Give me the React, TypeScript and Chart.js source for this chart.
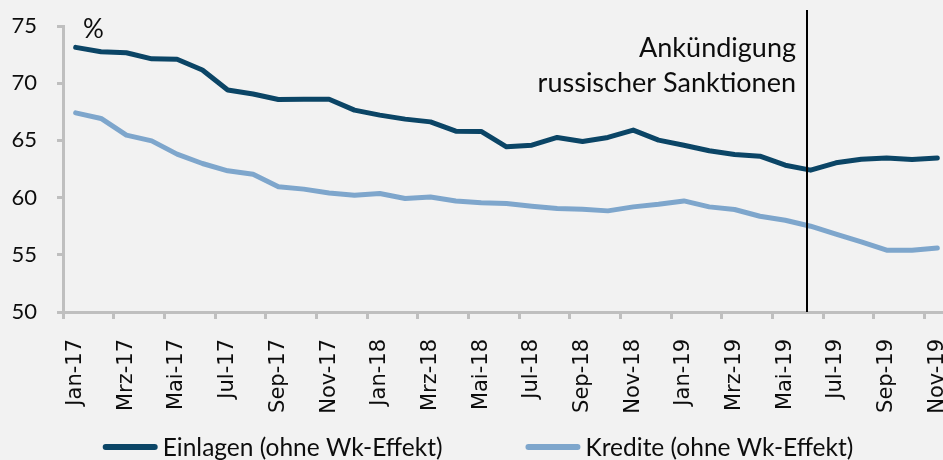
import React, { useEffect, useRef } from 'react';
import { Chart, registerables } from 'chart.js';

Chart.register(...registerables);

const FONT = 'Lato, "Liberation Sans", sans-serif';
const TICK_FONT = '"DejaVu Sans", Verdana, sans-serif';
const AXIS_COLOR = '#bfbfbf';
const TEXT_COLOR = '#0d0d0d';
const DARK = '#0b4566';
const LIGHT = '#7ea6cc';

const categories = [
  'Jan-17', 'Feb-17', 'Mrz-17', 'Apr-17', 'Mai-17', 'Jun-17', 'Jul-17', 'Aug-17', 'Sep-17', 'Okt-17', 'Nov-17', 'Dez-17',
  'Jan-18', 'Feb-18', 'Mrz-18', 'Apr-18', 'Mai-18', 'Jun-18', 'Jul-18', 'Aug-18', 'Sep-18', 'Okt-18', 'Nov-18', 'Dez-18',
  'Jan-19', 'Feb-19', 'Mrz-19', 'Apr-19', 'Mai-19', 'Jun-19', 'Jul-19', 'Aug-19', 'Sep-19', 'Okt-19', 'Nov-19',
];

const einlagen = [
  73.13, 72.75, 72.66, 72.13, 72.1, 71.15, 69.4, 69.05, 68.58, 68.6, 68.6, 67.65,
  67.21, 66.86, 66.62, 65.81, 65.78, 64.44, 64.58, 65.26, 64.91, 65.26, 65.9, 65.02,
  64.58, 64.09, 63.77, 63.62, 62.83, 62.4, 63.04, 63.36, 63.47, 63.33, 63.47,
];

const kredite = [
  67.41, 66.92, 65.46, 64.96, 63.8, 62.98, 62.34, 62.05, 60.94, 60.74, 60.41, 60.21,
  60.36, 59.92, 60.06, 59.71, 59.54, 59.48, 59.25, 59.05, 58.99, 58.84, 59.19, 59.42,
  59.71, 59.19, 58.96, 58.37, 58.02, 57.5, 56.8, 56.13, 55.4, 55.4, 55.6,
];

const seriesNames = ['Einlagen (ohne Wk-Effekt)', 'Kredite (ohne Wk-Effekt)'];
const yTicks = [50, 55, 60, 65, 70, 75];
const unitLabel = '%';
const eventLabel = 'Jun-19';
const eventOffset = -0.13;
const eventLines = ['Ankündigung', 'russischer Sanktionen'];
const eventLineTop = 76.4;

const overlayPlugin = {
  id: 'overlay',
  afterDatasetsDraw(chart: any) {
    const { ctx, chartArea, scales } = chart;
    const x = scales.x;
    const y = scales.y;
    const lx = Math.round(x.getPixelForValue(categories.indexOf(eventLabel) + eventOffset));
    ctx.save();
    // event line
    ctx.strokeStyle = '#000';
    ctx.lineWidth = 2;
    ctx.beginPath();
    ctx.moveTo(lx, y.getPixelForValue(eventLineTop));
    ctx.lineTo(lx, chartArea.bottom);
    ctx.stroke();
    // event text
    ctx.fillStyle = TEXT_COLOR;
    ctx.font = `27px ${FONT}`;
    ctx.textAlign = 'right';
    ctx.textBaseline = 'alphabetic';
    ctx.fillText(eventLines[0], lx - 11, chartArea.top + 31);
    ctx.fillText(eventLines[1], lx - 11, chartArea.top + 66);
    // unit
    ctx.textAlign = 'left';
    ctx.font = `26px ${FONT}`;
    ctx.fillText(unitLabel, chartArea.left + 20, chartArea.top + 12);
    // legend
    ctx.font = `24.5px ${FONT}`;
    const lineLen = 55;
    const gap = 5;
    const itemGap = 83;
    const colors = [DARK, LIGHT];
    const widths = seriesNames.map((n) => lineLen + gap + ctx.measureText(n).width);
    const total = widths[0] + widths[1] + itemGap;
    let sx = chart.width / 2 - total / 2 + 3;
    const ly = 447;
    seriesNames.forEach((name, i) => {
      ctx.strokeStyle = colors[i];
      ctx.lineWidth = 6;
      ctx.lineCap = 'round';
      ctx.beginPath();
      ctx.moveTo(sx + 3, ly);
      ctx.lineTo(sx + lineLen - 3, ly);
      ctx.stroke();
      ctx.fillStyle = TEXT_COLOR;
      ctx.fillText(name, sx + lineLen + gap, ly + 9);
      sx += widths[i] + itemGap;
    });
    ctx.restore();
  },
};

export default function App() {
  const ref = useRef<HTMLCanvasElement | null>(null);
  useEffect(() => {
    if (!ref.current) return;
    const chart = new Chart(ref.current, {
      type: 'line',
      data: {
        labels: categories,
        datasets: [
          {
            label: seriesNames[0],
            data: einlagen,
            borderColor: DARK,
            backgroundColor: DARK,
            borderWidth: 5,
            pointRadius: 0,
            borderCapStyle: 'round',
            borderJoinStyle: 'round',
            tension: 0,
          },
          {
            label: seriesNames[1],
            data: kredite,
            borderColor: LIGHT,
            backgroundColor: LIGHT,
            borderWidth: 5,
            pointRadius: 0,
            borderCapStyle: 'round',
            borderJoinStyle: 'round',
            tension: 0,
          },
        ],
      },
      options: {
        responsive: false,
        devicePixelRatio: 1,
        animation: false,
        layout: { padding: { top: 26, left: 0, right: 0, bottom: 0 } },
        plugins: {
          legend: { display: false },
          tooltip: { enabled: false },
          title: { display: false },
        },
        scales: {
          x: {
            type: 'category',
            offset: true,
            afterFit: (s: any) => {
              s.height = 148;
              s.paddingLeft = 0;
              s.paddingRight = 0;
            },
            grid: {
              offset: true,
              drawOnChartArea: false,
              drawTicks: true,
              tickLength: 7,
              lineWidth: 3,
              color: (c: any) => (typeof c.index === 'number' && c.index % 2 === 0 ? AXIS_COLOR : 'rgba(0,0,0,0)'),
            },
            border: { display: true, color: AXIS_COLOR, width: 3 },
            ticks: {
              autoSkip: false,
              minRotation: 90,
              maxRotation: 90,
              padding: 20,
              color: TEXT_COLOR,
              font: { family: TICK_FONT, size: 21 },
              callback: (_v: any, i: number) => (i % 2 === 0 ? categories[i] : ''),
            },
          },
          y: {
            min: 50,
            max: 75,
            afterFit: (s: any) => {
              s.width = 63;
              s.paddingTop = 0;
              s.paddingBottom = 0;
            },
            afterBuildTicks: (s: any) => {
              s.ticks = yTicks.map((v) => ({ value: v }));
            },
            grid: {
              drawOnChartArea: false,
              drawTicks: true,
              tickLength: 6,
              lineWidth: 3,
              color: AXIS_COLOR,
            },
            border: { display: true, color: AXIS_COLOR, width: 3 },
            ticks: {
              padding: 20,
              color: TEXT_COLOR,
              font: { family: FONT, size: 22 },
            },
          },
        },
      },
      plugins: [overlayPlugin],
    });
    return () => chart.destroy();
  }, []);

  return (
    <div
      style={{
        position: 'fixed',
        left: 0,
        top: 0,
        width: 943,
        height: 460,
        overflow: 'hidden',
        background: '#f2f2f2',
      }}
    >
      <canvas ref={ref} width={950} height={460} style={{ display: 'block', width: 950, height: 460 }} />
    </div>
  );
}
